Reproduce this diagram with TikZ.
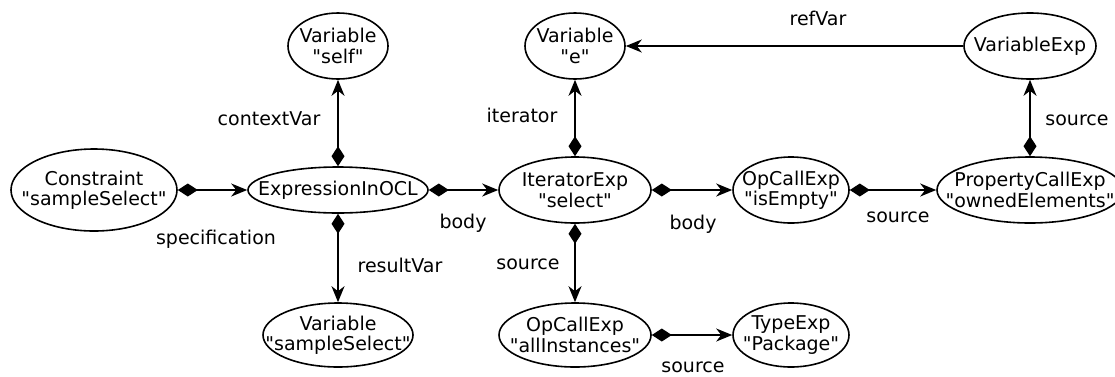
\documentclass[tikz,border=0pt]{standalone}
\usepackage{fontspec}
\newfontfamily\dvs{DejaVu Sans}
\usetikzlibrary{shapes.geometric,arrows.meta}
\begin{document}
\begin{tikzpicture}[x=1pt,y=-1pt,
  txt/.style={font=\dvs\fontsize{19}{20.5}\selectfont},
  obj/.style n args={3}{ellipse,draw,line width=1.6pt,inner sep=0pt,
    minimum width=#1,minimum height=#2,
    label={[txt,align=center,inner sep=0pt]center:{#3}}},
  lbl/.style={txt,anchor=base,inner sep=0pt},
  comp/.style={line width=1.6pt,{Diamond[length=20pt,width=13pt]}-{Stealth[length=16pt,width=13pt,inset=5pt]}},
  assoc/.style={line width=1.6pt,-{Stealth[length=16pt,width=13pt,inset=5pt]}}]
\useasboundingbox (0,0) rectangle (1115,376);
\node[obj={166pt}{82pt}{Constraint\\"sampleSelect"}] (constraint) at (94,190) {};
\node[obj={180pt}{46pt}{ExpressionInOCL}] (expr) at (338,190) {};
\node[obj={100pt}{66pt}{Variable\\"self"}] (self) at (338,46) {};
\node[obj={150pt}{64pt}{Variable\\"sampleSelect"}] (resvar) at (338,335) {};
\node[obj={100pt}{66pt}{Variable\\"e"}] (evar) at (575,46) {};
\node[obj={152pt}{66pt}{IteratorExp\\"select"}] (iter) at (575,190) {};
\node[obj={152pt}{64pt}{OpCallExp\\"allInstances"}] (allinst) at (575,335) {};
\node[obj={116pt}{66pt}{OpCallExp\\"isEmpty"}] (isempty) at (791,190) {};
\node[obj={116pt}{64pt}{TypeExp\\"Package"}] (typeexp) at (791,335) {};
\node[obj={186pt}{66pt}{PropertyCallExp\\"ownedElements"}] (propcall) at (1030,190) {};
\node[obj={132pt}{66pt}{VariableExp}] (varexp) at (1030,46) {};

\draw[comp] (constraint) -- (expr);
\draw[comp] (expr) -- (self);
\draw[comp] (expr) -- (resvar);
\draw[comp] (expr) -- (iter);
\draw[comp] (iter) -- (evar);
\draw[comp] (iter) -- (isempty);
\draw[comp] (iter) -- (allinst);
\draw[comp] (allinst) -- (typeexp);
\draw[comp] (isempty) -- (propcall);
\draw[comp] (propcall) -- (varexp);
\draw[assoc] (varexp) -- (evar);

\node[lbl] (l1) at (269,125) {contextVar};
\node[lbl] (l2) at (216,244) {specification};
\node[lbl] (l3) at (400,272) {resultVar};
\node[lbl] (l4) at (463,228) {body};
\node[lbl] (l5) at (522,122) {iterator};
\node[lbl] (l6) at (528,269) {source};
\node[lbl] (l7) at (693,229) {body};
\node[lbl] (l8) at (693,372.5) {source};
\node[lbl] (l9) at (818,25) {refVar};
\node[lbl] (l10) at (898,222) {source};
\node[lbl] (l11) at (1077,125) {source};
\end{tikzpicture}
\end{document}
